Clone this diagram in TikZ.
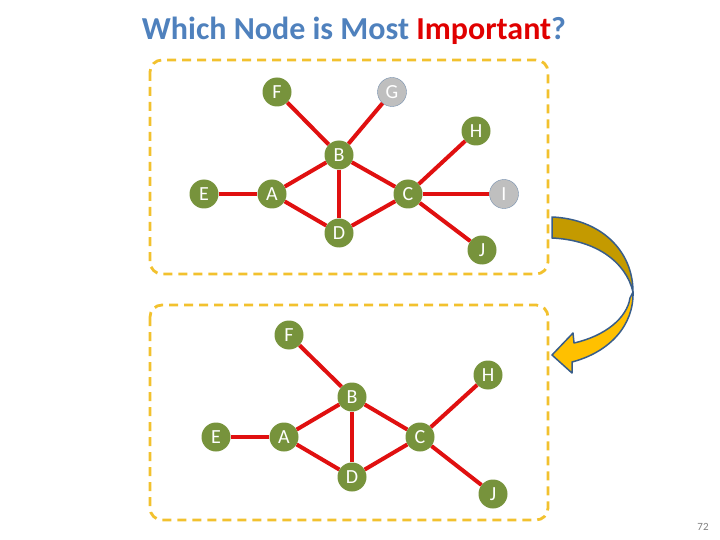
\documentclass[tikz,border=0pt]{standalone}
\usepackage{fontspec}
\setmainfont{Carlito}
\definecolor{ttlblue}{HTML}{4F81BD}
\definecolor{ttlred}{HTML}{E00000}
\definecolor{vgreen}{HTML}{77933C}
\definecolor{vgray}{HTML}{BFBFBF}
\definecolor{vedge}{HTML}{E01010}
\definecolor{boxyel}{HTML}{F2C12E}
\definecolor{arrdark}{HTML}{C49A00}
\definecolor{arrlight}{HTML}{FFC000}
\definecolor{arrline}{HTML}{385D8A}

\begin{document}
\begin{tikzpicture}[x=1pt, y=-1pt,
  vert/.style={circle, fill=vgreen, minimum size=29pt, inner sep=0pt,
    text=white, font=\fontsize{20}{20}\selectfont},
  gone/.style={vert, fill=vgray, draw=arrline!70, thin},
  link/.style={vedge, line width=4pt},
  grp/.style={boxyel, line width=2.8pt, dash pattern=on 9pt off 6pt, rounded corners=12pt}]
  \useasboundingbox (0,0) rectangle (720,540);
  \node[font=\fontsize{32}{32}\selectfont\bfseries, text=ttlblue] (title) at (354,31)
    {Which Node is Most \textcolor{ttlred}{Important}?};
  \node[font=\fontsize{11}{11}\selectfont, text=gray] (pg) at (703,527) {72};

  % before: full network
  \draw[grp] (150,60) rectangle (548,274);
  \node[vert] (F1) at (277,92) {F};
  \node[gone] (G1) at (392,92) {G};
  \node[vert] (H1) at (476,131) {H};
  \node[vert] (B1) at (339,155) {B};
  \node[vert] (E1) at (204,194) {E};
  \node[vert] (A1) at (272,194) {A};
  \node[vert] (C1) at (408,194) {C};
  \node[gone] (I1) at (504,194) {I};
  \node[vert] (D1) at (339,233) {D};
  \node[vert] (J1) at (482,250) {J};
  \foreach \u/\v in {E1/A1, A1/B1, A1/D1, B1/F1, B1/G1, B1/D1, B1/C1, D1/C1, C1/H1, C1/I1, C1/J1}
    \draw[link] (\u) -- (\v);

  % after: G and I removed
  \draw[grp] (150,305) rectangle (548,520);
  \node[vert] (F2) at (289,335) {F};
  \node[vert] (H2) at (488,375) {H};
  \node[vert] (B2) at (352,397) {B};
  \node[vert] (E2) at (216,437) {E};
  \node[vert] (A2) at (284,437) {A};
  \node[vert] (C2) at (420,437) {C};
  \node[vert] (D2) at (352,477) {D};
  \node[vert] (J2) at (493,494) {J};
  \foreach \u/\v in {E2/A2, A2/B2, A2/D2, B2/F2, B2/D2, B2/C2, D2/C2, C2/H2, C2/J2}
    \draw[link] (\u) -- (\v);

  % curved block arrow
  \draw[arrline, line width=1.5pt, fill=arrdark, line join=round]
    (552,217) .. controls (600,219) and (633,250) .. (633,292)
    .. controls (626,262) and (596,240) .. (552,238) -- cycle;
  \draw[arrline, line width=1.5pt, fill=arrlight, line join=round]
    (633,292) .. controls (634,325) and (610,352) .. (572,362)
    -- (572,373) -- (552,355) -- (573,333) -- (574,343)
    .. controls (605,336) and (627,318) .. (630,298) -- cycle;
\end{tikzpicture}
\end{document}
